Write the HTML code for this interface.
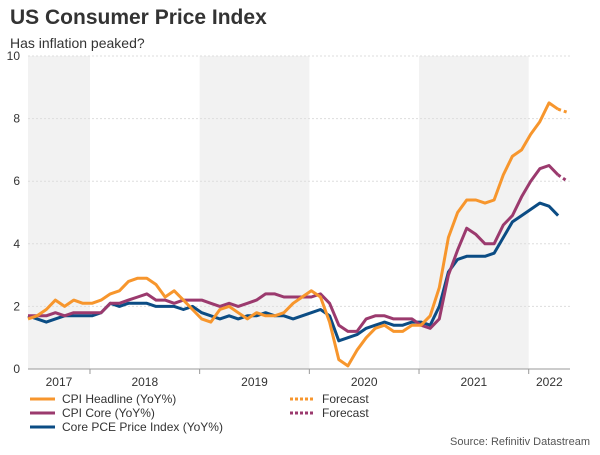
<!DOCTYPE html>
<html><head><meta charset="utf-8"><style>
body{margin:0;background:#fff;font-family:"Liberation Sans",sans-serif;}
svg text{font-family:"Liberation Sans",sans-serif;}
</style></head><body>
<svg id="chart" width="600" height="450">
<text x="10" y="24" font-size="21" font-weight="bold" fill="#333">US Consumer Price Index</text>
<text x="10" y="48" font-size="14" fill="#333">Has inflation peaked?</text>
<g id="bands"></g><g id="grid"></g><g id="axes"></g><g id="series"></g>
<g font-size="12" fill="#333">
<line x1="30" y1="399" x2="55" y2="399" stroke="#f7962d" stroke-width="3"/><text x="62" y="403">CPI Headline (YoY%)</text>
<line x1="30" y1="413" x2="55" y2="413" stroke="#9b3a6e" stroke-width="3"/><text x="62" y="417">CPI Core (YoY%)</text>
<line x1="30" y1="427" x2="55" y2="427" stroke="#0b4c84" stroke-width="3"/><text x="62" y="431">Core PCE Price Index (YoY%)</text>
<line x1="290" y1="399" x2="315" y2="399" stroke="#f7962d" stroke-width="3" stroke-dasharray="3,2"/><text x="322" y="403">Forecast</text>
<line x1="290" y1="413" x2="315" y2="413" stroke="#9b3a6e" stroke-width="3" stroke-dasharray="3,2"/><text x="322" y="417">Forecast</text>
</g>
<text x="590" y="445" font-size="11" fill="#555" text-anchor="end">Source: Refinitiv Datastream</text>
</svg>
<script>
const startMonth = 5; // June 2017 (months since Jan 2017)
const cpiHeadline = [1.6,1.7,1.9,2.2,2.0,2.2,2.1, 2.1,2.2,2.4,2.5,2.8,2.9,2.9,2.7,2.3,2.5,2.2,1.9, 1.6,1.5,1.9,2.0,1.8,1.6,1.8,1.7,1.7,1.8,2.1,2.3, 2.5,2.3,1.5,0.3,0.1,0.6,1.0,1.3,1.4,1.2,1.2,1.4, 1.4,1.7,2.6,4.2,5.0,5.4,5.4,5.3,5.4,6.2,6.8,7.0, 7.5,7.9,8.5,8.3];
const cpiCore = [1.7,1.7,1.7,1.8,1.7,1.8,1.8, 1.8,1.8,2.1,2.1,2.2,2.3,2.4,2.2,2.2,2.1,2.2,2.2, 2.2,2.1,2.0,2.1,2.0,2.1,2.2,2.4,2.4,2.3,2.3,2.3, 2.3,2.4,2.1,1.4,1.2,1.2,1.6,1.7,1.7,1.6,1.6,1.6, 1.4,1.3,1.6,3.0,3.8,4.5,4.3,4.0,4.0,4.6,4.9,5.5, 6.0,6.4,6.5,6.2];
const corePce = [1.7,1.6,1.5,1.6,1.7,1.7,1.7, 1.7,1.8,2.1,2.0,2.1,2.1,2.1,2.0,2.0,2.0,1.9,2.0, 1.8,1.7,1.6,1.7,1.6,1.7,1.7,1.8,1.7,1.7,1.6,1.7, 1.8,1.9,1.7,0.9,1.0,1.1,1.3,1.4,1.5,1.4,1.4,1.5, 1.5,1.4,2.0,3.1,3.5,3.6,3.6,3.6,3.7,4.2,4.7,4.9, 5.1,5.3,5.2,4.9];
const headlineForecast = [8.2];
const coreForecast = [6.0];
const yTicks = [0,2,4,6,8,10];
const years = ["2017","2018","2019","2020","2021","2022"];

const NS="http://www.w3.org/2000/svg";
const X0=28,X1=570,Y0=369,Y1=56;
const MW=9.14;
function xs(m){return 28+(m-5)*MW;}
function ys(v){return Y0-(v/10)*(Y0-Y1);}
function mk(tag,attrs,parent){const e=document.createElementNS(NS,tag);for(const k in attrs)e.setAttribute(k,attrs[k]);parent.appendChild(e);return e;}
const bands=document.getElementById('bands'),grid=document.getElementById('grid'),axes=document.getElementById('axes'),series=document.getElementById('series');
function yb(i){return Math.min(X1,Math.max(X0,xs(i*12)-2));}
years.forEach((y,i)=>{
  const a=yb(i),b=yb(i+1);
  if(i%2===0){const r=mk('rect',{x:a,y:Y1,width:b-a,height:Y0-Y1,fill:'#f2f2f2'},bands);
    
    }
  const t=mk('text',{x:(a+b)/2,y:386,'font-size':12,fill:'#333','text-anchor':'middle'},axes);t.textContent=y;
  
  
  if(i>0){const l=mk('line',{x1:a,y1:Y0,x2:a,y2:Y0+5,stroke:'#999'},axes);
    
    }
});
yTicks.forEach(v=>{
  const y=ys(v);
  if(v>0){const g=mk('line',{x1:X0,y1:y,x2:X1,y2:y,stroke:'#ddd','stroke-dasharray':'2,2'},grid);
    
    }
  const t=mk('text',{x:20,y:y+4,'font-size':12,fill:'#333','text-anchor':'end'},axes);t.textContent=v;
  
  
});
const ax=mk('line',{x1:X0,y1:Y0,x2:X1,y2:Y0,stroke:'#999'},axes);


function line(data,color,name,offset,dash){
  const pts=data.map((v,i)=>xs(startMonth+offset+i).toFixed(1)+','+ys(v).toFixed(1)).join(' ');
  const p=mk('polyline',{points:pts,fill:'none',stroke:color,'stroke-width':3,'stroke-linejoin':'round'},series);
  if(dash)p.setAttribute('stroke-dasharray',dash);
  
  
}
line(corePce,'#0b4c84','core-pce-line',0);
line(cpiCore,'#9b3a6e','cpi-core-line',0);
line(cpiHeadline,'#f7962d','cpi-headline-line',0);
const n=cpiHeadline.length;
line([cpiHeadline[n-1]].concat(headlineForecast),'#f7962d','cpi-headline-forecast',n-1,'3,3');
line([cpiCore[cpiCore.length-1]].concat(coreForecast),'#9b3a6e','cpi-core-forecast',cpiCore.length-1,'3,3');
</script>
</body></html>
